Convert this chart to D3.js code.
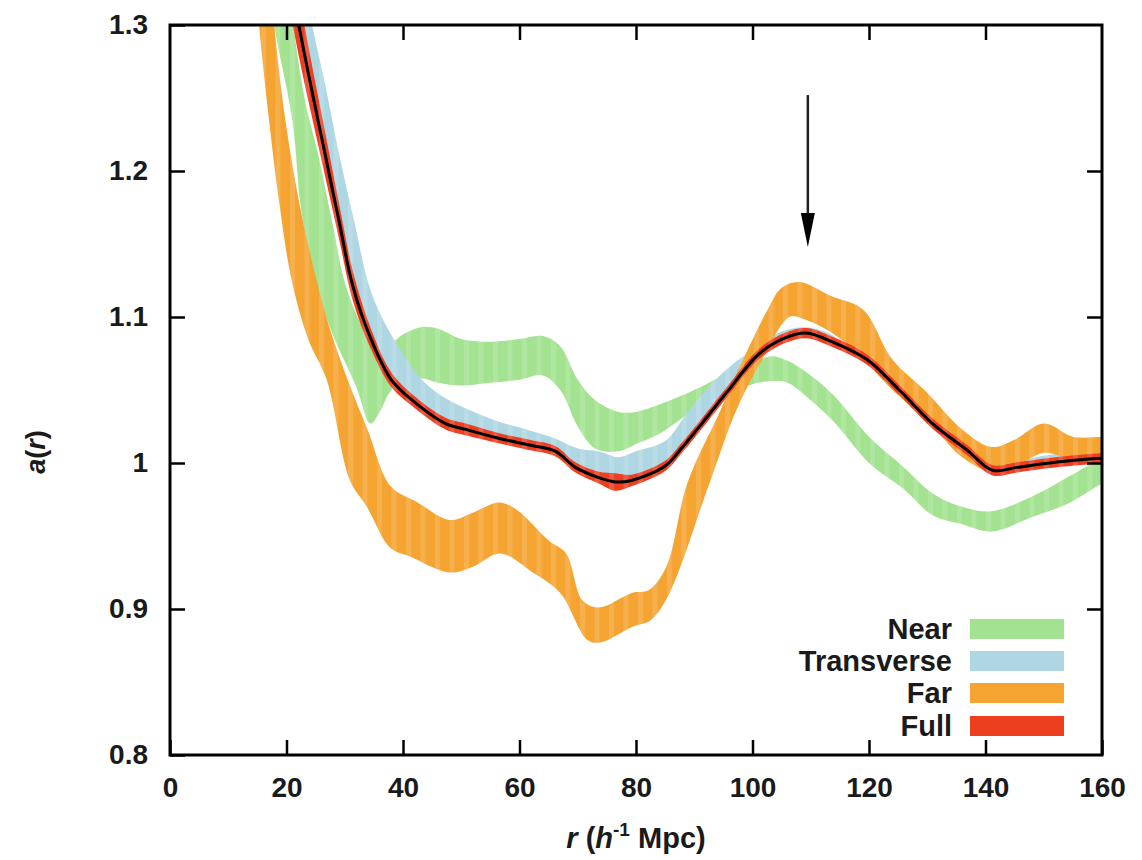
<!DOCTYPE html>
<html>
<head>
<meta charset="utf-8">
<script src="https://cdn.jsdelivr.net/npm/d3@7"></script>
<style>
  body { margin: 0; background: #fff; }
  text { font-family: 'Liberation Sans', Arial, sans-serif; }
</style>
</head>
<body>
<svg id="chart"></svg>
<script>
'use strict';

// axis ticks
const xTicks = [0, 20, 40, 60, 80, 100, 120, 140, 160];
const yTicks = [0.8, 0.9, 1, 1.1, 1.2, 1.3];

// bands as [r, value] edges (upper edge, lower edge)
const nearUpper = [[20.5, 1.34], [21.2, 1.30], [23.3, 1.246], [25.4, 1.212], [27.8, 1.166], [30.2, 1.121],
    [33.5, 1.09], [36, 1.078], [38, 1.082], [40, 1.088], [43, 1.093], [46, 1.092], [50, 1.085], [55, 1.083],
    [60, 1.085], [64, 1.087], [67, 1.08], [70, 1.057], [73, 1.043], [77, 1.035], [80, 1.035], [84, 1.04],
    [90, 1.05], [95, 1.06], [100, 1.068], [103, 1.073], [106, 1.07], [110, 1.06], [114, 1.046], [120, 1.018],
    [126, 0.997], [131, 0.979], [136, 0.97], [141, 0.967], [148, 0.977], [154, 0.99], [160, 1.004], [162, 1.01]];
const nearLower = [[16.8, 1.34], [17.9, 1.30], [21, 1.235], [22.8, 1.166], [27, 1.098], [32, 1.052],
    [34.4, 1.027], [36, 1.035], [38, 1.05], [40, 1.055], [43, 1.058], [46, 1.055], [50, 1.053], [55, 1.055],
    [60, 1.057], [64, 1.06], [67, 1.05], [70, 1.025], [73, 1.01], [77, 1.008], [80, 1.013], [84, 1.02],
    [90, 1.036], [95, 1.045], [100, 1.054], [103, 1.056], [106, 1.055], [110, 1.043], [114, 1.028], [120, 1.0],
    [126, 0.982], [131, 0.964], [136, 0.958], [141, 0.953], [148, 0.963], [154, 0.972], [160, 0.986], [162, 0.99]];

const transUpper = [[23.5, 1.32], [24.4, 1.30], [26.7, 1.258], [29, 1.212], [31.6, 1.166], [34.2, 1.121],
    [36.6, 1.098], [39.5, 1.078], [43, 1.058], [47, 1.045], [51, 1.037], [56, 1.029], [62, 1.022], [66, 1.017],
    [70, 1.01], [73.6, 1.008], [77, 1.004], [80, 1.008], [85, 1.015], [88.4, 1.032], [92, 1.05], [96.7, 1.068],
    [101, 1.08], [105, 1.09], [109, 1.093], [113, 1.089], [116, 1.081], [120, 1.072], [125, 1.052], [130, 1.032],
    [136, 1.012], [141, 0.999], [146, 1.002], [152, 1.006], [156, 1.006], [162, 1.006]];
const transLower = [[20.8, 1.316], [22.1, 1.294], [24.2, 1.255], [26.6, 1.209], [29, 1.163], [31.4, 1.118],
    [34.5, 1.082], [38, 1.054], [42.2, 1.038], [47.3, 1.024], [50.8, 1.02], [56.4, 1.014], [62.1, 1.009],
    [66.2, 1.005], [69.6, 0.994], [73.6, 0.988], [76.5, 0.986], [79.2, 0.987], [85, 0.995], [88, 1.008],
    [91.5, 1.025], [95.5, 1.045], [101.2, 1.072], [105.8, 1.083], [109.2, 1.086], [113.7, 1.08],
    [119.6, 1.068], [125.2, 1.047], [130.9, 1.024], [136.8, 1.006], [141.2, 0.992], [145.4, 0.994],
    [151, 0.997], [159.2, 1.0], [162, 1.0]];

const farUpper = [[17.2, 1.34], [17.9, 1.30], [19.8, 1.235], [22.8, 1.166], [27, 1.098], [30.5, 1.057],
    [33.9, 1.023], [37.9, 0.984], [42.5, 0.973], [48, 0.961], [52, 0.966], [56.5, 0.973], [59.5, 0.968],
    [65, 0.947], [68, 0.938], [70.8, 0.906], [73.6, 0.901], [79.3, 0.911], [82.2, 0.913], [85.2, 0.929],
    [88.8, 0.986], [94.5, 1.036], [98.4, 1.071], [102.6, 1.105], [105, 1.12], [108, 1.124], [113.7, 1.114],
    [119, 1.105], [124, 1.071], [130, 1.048], [136, 1.023], [141, 1.011], [145, 1.016], [150, 1.027],
    [155, 1.018], [160, 1.018], [162, 1.018]];
const farLower = [[14.6, 1.34], [15.3, 1.30], [17, 1.235], [18.7, 1.18], [20.9, 1.125], [23.8, 1.084],
    [26.9, 1.057], [30.9, 0.988], [33.8, 0.97], [37.8, 0.942], [41.2, 0.936], [48, 0.925], [52, 0.929],
    [56.7, 0.938], [62.3, 0.925], [67, 0.911], [71.6, 0.879], [73.8, 0.877], [79.5, 0.888], [82.4, 0.892],
    [85.4, 0.908], [92.6, 0.986], [97.2, 1.036], [101.7, 1.071], [106.3, 1.1], [108.5, 1.099], [113.7, 1.089],
    [119, 1.071], [124, 1.05], [130, 1.029], [136, 1.004], [141, 0.994], [145, 0.997], [150, 1.007],
    [155, 1.002], [160, 1.0], [162, 1.0]];

// full sample: mean curve and half width of its band
const fullR = [20.8, 22.1, 24.2, 26.6, 29, 31.4, 34.5, 38, 42.2, 47.3, 50.8, 56.4, 62.1, 66.2, 69.6, 73.6,
    76.5, 79.2, 85, 88, 91.5, 95.5, 101.2, 105.8, 109.2, 113.7, 119.6, 125.2, 130.9, 136.8, 141.2, 145.4,
    151, 159.2, 162];
const fullMid = [1.328, 1.3, 1.258, 1.212, 1.166, 1.121, 1.085, 1.057, 1.041, 1.027, 1.023, 1.017, 1.012,
    1.008, 0.997, 0.99, 0.987, 0.988, 0.998, 1.011, 1.028, 1.048, 1.075, 1.086, 1.089, 1.083, 1.071, 1.05,
    1.027, 1.009, 0.995, 0.997, 1.0, 1.003, 1.003];
const fullErr = [0.022, 0.021, 0.018, 0.015, 0.012, 0.01, 0.007, 0.005, 0.004, 0.004, 0.004, 0.0035, 0.0035,
    0.0035, 0.0035, 0.004, 0.006, 0.004, 0.0035, 0.0035, 0.0035, 0.0035, 0.0035, 0.0035, 0.0035, 0.0035,
    0.0035, 0.0035, 0.0035, 0.0035, 0.0035, 0.0035, 0.0035, 0.0035, 0.0035];

const legendNames = ['Near', 'Transverse', 'Far', 'Full'];
const legendColors = ['#a2e290', '#aed6e3', '#f5a431', '#ee3e20'];

// BAO arrow position (r, top value, tip value)
const arrowR = 109.5;
const arrowTop = 1.252;
const arrowTip = 1.148;

(function () {
    const width = 1142;
    const height = 860;
    const left = 170, right = 1102, top = 25, bottom = 755;
    const fontFamily = "'Liberation Sans', Arial, sans-serif";

    const x = d3.scaleLinear().domain([0, 160]).range([left, right]);
    const y = d3.scaleLinear().domain([0.8, 1.3]).range([bottom, top]);

    const svg = d3.select('#chart')
        .attr('width', width)
        .attr('height', height);

    const defs = svg.append('defs');
    defs.append('clipPath').attr('id', 'plot-clip')
        .append('rect')
        .attr('x', left).attr('y', top)
        .attr('width', right - left).attr('height', bottom - top);

    // faint vertical stripes seen inside the bands
    defs.append('pattern')
        .attr('id', 'stripes')
        .attr('patternUnits', 'userSpaceOnUse')
        .attr('width', 14.5).attr('height', 10)
        .append('rect')
        .attr('width', 5).attr('height', 10)
        .attr('fill', '#fff').attr('opacity', 0.14);

    const edge = d3.line()
        .x(d => x(d[0]))
        .y(d => y(d[1]))
        .curve(d3.curveCatmullRom.alpha(0.5));

    function bandPath(upper, lower) {
        return edge(upper.concat(lower.slice().reverse())) + 'Z';
    }

    const fullUpper = fullR.map((r, i) => [r, fullMid[i] + fullErr[i]]);
    const fullLower = fullR.map((r, i) => [r, fullMid[i] - fullErr[i]]);

    const bands = [
        { upper: nearUpper, lower: nearLower, color: legendColors[0] },
        { upper: transUpper, lower: transLower, color: legendColors[1] },
        { upper: farUpper, lower: farLower, color: legendColors[2] },
        { upper: fullUpper, lower: fullLower, color: legendColors[3] }
    ];

    const plot = svg.append('g').attr('clip-path', 'url(#plot-clip)');

    bands.forEach(b => {
        plot.append('path')
            .attr('d', bandPath(b.upper, b.lower))
            .attr('fill', b.color);
        plot.append('path')
            .attr('d', bandPath(b.upper, b.lower))
            .attr('fill', 'url(#stripes)');
    });

    plot.append('path')
        .datum(fullR.map((r, i) => [r, fullMid[i]]))
        .attr('fill', 'none')
        .attr('stroke', '#000')
        .attr('stroke-width', 3)
        .attr('d', edge);

    // axes, ticks pointing inward on all four sides
    const tickLen = 15;

    const styleAxis = g => {
        g.attr('font-size', 28)
            .attr('font-family', fontFamily)
            .attr('font-weight', 'bold');
        g.select('.domain').remove();
        g.selectAll('.tick line').attr('stroke', '#000').attr('stroke-width', 2.5);
        g.selectAll('.tick text').attr('fill', '#1a1a1a');
    };

    svg.append('g')
        .attr('transform', 'translate(0,' + bottom + ')')
        .call(d3.axisBottom(x).tickValues(xTicks).tickSize(-tickLen).tickPadding(22).tickFormat(d3.format('d')))
        .call(styleAxis);
    svg.append('g')
        .attr('transform', 'translate(0,' + top + ')')
        .call(d3.axisTop(x).tickValues(xTicks.slice(1, -1)).tickSize(-tickLen).tickFormat(''))
        .call(styleAxis);
    svg.append('g')
        .attr('transform', 'translate(' + left + ',0)')
        .call(d3.axisLeft(y).tickValues(yTicks).tickSize(-tickLen).tickPadding(22)
            .tickFormat(d => d === 1 ? '1' : d3.format('.1f')(d)))
        .call(styleAxis);
    svg.append('g')
        .attr('transform', 'translate(' + right + ',0)')
        .call(d3.axisRight(y).tickValues(yTicks.slice(1, -1)).tickSize(-tickLen).tickFormat(''))
        .call(styleAxis);

    svg.append('rect')
        .attr('x', left).attr('y', top)
        .attr('width', right - left).attr('height', bottom - top)
        .attr('fill', 'none')
        .attr('stroke', '#000')
        .attr('stroke-width', 3);

    // arrow marking the peak
    const ax = x(arrowR);
    const tipY = y(arrowTip);
    svg.append('line')
        .attr('x1', ax).attr('x2', ax)
        .attr('y1', y(arrowTop)).attr('y2', tipY - 20)
        .attr('stroke', '#222')
        .attr('stroke-width', 2.5);
    svg.append('path')
        .attr('d', 'M' + (ax - 7) + ',' + (tipY - 34) + 'L' + (ax + 7) + ',' + (tipY - 34) + 'L' + ax + ',' + tipY + 'Z')
        .attr('fill', '#000');

    // legend
    const legend = svg.append('g')
        .style('font-size', '29px')
        .style('font-weight', 'bold');
    const rowY = [629, 661, 693, 726];
    legendNames.forEach((name, i) => {
        legend.append('text')
            .attr('x', 952)
            .attr('y', rowY[i])
            .attr('dy', '0.36em')
            .attr('text-anchor', 'end')
            .attr('fill', '#1a1a1a')
            .text(name);
        legend.append('rect')
            .attr('x', 970)
            .attr('y', rowY[i] - 10)
            .attr('width', 94)
            .attr('height', 20)
            .attr('fill', legendColors[i]);
    });

    // axis titles
    const xTitle = svg.append('text')
        .attr('x', 636)
        .attr('y', 848)
        .attr('text-anchor', 'middle')
        .style('font-size', '29px')
        .style('font-weight', 'bold')
        .attr('fill', '#1a1a1a');
    xTitle.append('tspan').style('font-style', 'italic').text('r');
    xTitle.append('tspan').text(' (');
    xTitle.append('tspan').style('font-style', 'italic').text('h');
    xTitle.append('tspan').attr('dy', -12).style('font-size', '19px').text('-1');
    xTitle.append('tspan').attr('dy', 12).text(' Mpc)');

    const yTitle = svg.append('text')
        .attr('transform', 'translate(45,452) rotate(-90)')
        .attr('text-anchor', 'middle')
        .style('font-size', '27px')
        .style('font-weight', 'bold')
        .attr('fill', '#1a1a1a');
    yTitle.append('tspan').style('font-style', 'italic').text('a');
    yTitle.append('tspan').text('(');
    yTitle.append('tspan').style('font-style', 'italic').text('r');
    yTitle.append('tspan').text(')');
})();
</script>
</body>
</html>
